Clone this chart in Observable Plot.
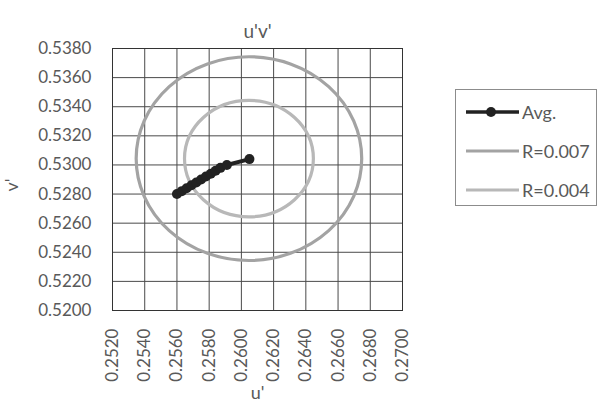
<!DOCTYPE html>
<html><head><meta charset="utf-8">
<script src="https://cdn.jsdelivr.net/npm/d3@7"></script>
<script src="https://cdn.jsdelivr.net/npm/@observablehq/plot@0.6"></script>
<style>
body{margin:0;background:#fff;font-family:Lato,sans-serif}
#wrap{position:relative;width:604px;height:416px}
#legend{position:absolute;left:455px;top:89px;width:142px;height:117px;border:1px solid #8c8c8c;box-sizing:border-box;background:#fff}
.item{position:absolute;left:0;height:24px;display:flex;align-items:center;font-size:18px;color:#595959}
.item svg{display:block}
</style></head><body><div id="wrap"><div id="legend"></div></div>
<script>
// Average chromaticity path (u', v')
const u = [0.2560, 0.2563, 0.2566, 0.2569, 0.2572, 0.2575, 0.2578, 0.2581, 0.2584, 0.2587, 0.2591, 0.2605];
const v = [0.5280, 0.5282, 0.5284, 0.5286, 0.5288, 0.5290, 0.5292, 0.5294, 0.5296, 0.5298, 0.5300, 0.5304];
// Reference circles
const ringNames = ["R=0.007", "R=0.004"];
const ringRadii = [0.007, 0.004];
const ringColors = ["#a3a3a3", "#b8b8b8"];
const centerU = 0.2605;
const centerV = 0.5304;
// Ticks
const xTicks = [0.252, 0.254, 0.256, 0.258, 0.260, 0.262, 0.264, 0.266, 0.268, 0.270];
const yTicks = [0.520, 0.522, 0.524, 0.526, 0.528, 0.530, 0.532, 0.534, 0.536, 0.538];

const avg = u.map((x, i) => ({u: x, v: v[i]}));
const rings = ringNames.map((n, i) => ({name: n, r: ringRadii[i], color: ringColors[i]}));

function ringMark(index, scales) {
  const g = d3.create("svg:g");
  for (const r of rings) {
    g.append("ellipse")
      .attr("cx", scales.x(centerU)).attr("cy", scales.y(centerV))
      .attr("rx", scales.x(centerU + r.r) - scales.x(centerU))
      .attr("ry", scales.y(centerV) - scales.y(centerV + r.r))
      .attr("fill", "none").attr("stroke", r.color).attr("stroke-width", 3.2);
  }
  return g.node();
}

const chart = Plot.plot({
  width: 604, height: 416,
  marginLeft: 112, marginRight: 202, marginTop: 48, marginBottom: 106,
  style: {fontFamily: "Lato, sans-serif", fontSize: "17px", color: "#595959", background: "#fff"},
  x: {domain: [0.252, 0.270], ticks: xTicks, tickFormat: d3.format(".4f"), tickRotate: -90, tickSize: 0, tickPadding: 18, label: null},
  y: {domain: [0.520, 0.538], ticks: yTicks, tickFormat: d3.format(".4f"), tickSize: 0, tickPadding: 21, label: null},
  marks: [
    Plot.gridX(xTicks, {stroke: "#4a4a4a", strokeOpacity: 1}),
    Plot.gridY(yTicks, {stroke: "#4a4a4a", strokeOpacity: 1}),
    Plot.frame({stroke: "#333"}),
    ringMark,
    Plot.line(avg, {x: "u", y: "v", stroke: "#222", strokeWidth: 4}),
    Plot.dot(avg, {x: "u", y: "v", r: 5, fill: "#222"}),
    Plot.text(["u'v'"], {text: d => d, frameAnchor: "top", lineAnchor: "middle", dy: -17, fontSize: 19, fill: "#595959"}),
    Plot.text(["u'"], {text: d => d, frameAnchor: "bottom", lineAnchor: "middle", dy: 83, fontSize: 18, fill: "#595959"}),
    Plot.text(["v'"], {text: d => d, frameAnchor: "left", lineAnchor: "middle", dx: -100, dy: 12, rotate: -90, fontSize: 18, fill: "#595959"})
  ]
});
document.getElementById("wrap").prepend(chart);
chart.style.position = "absolute"; chart.style.left = "0"; chart.style.top = "0";

// Legend
const legend = document.getElementById("legend");
const entries = [
  {name: "Avg.", color: "#222", dot: true},
  ...rings.map(r => ({name: r.name, color: r.color, dot: false}))
];
entries.forEach((e, i) => {
  const div = document.createElement("div");
  div.className = "item";
  div.style.top = (10 + i * 39) + "px";
  const s = d3.create("svg").attr("width", 66).attr("height", 24);
  s.append("line").attr("x1", 10).attr("x2", 63).attr("y1", 12).attr("y2", 12)
    .attr("stroke", e.color).attr("stroke-width", e.dot ? 3.5 : 3.2);
  if (e.dot) s.append("circle").attr("cx", 35).attr("cy", 12).attr("r", 5).attr("fill", e.color);
  div.appendChild(s.node());
  const t = document.createElement("span");
  t.textContent = e.name;
  div.appendChild(t);
  legend.appendChild(div);
});
</script>
</body></html>
